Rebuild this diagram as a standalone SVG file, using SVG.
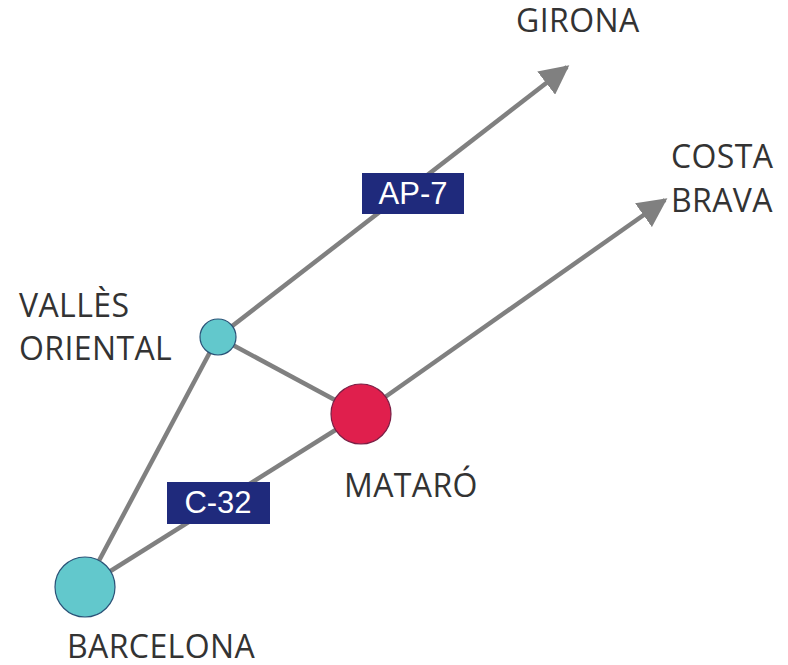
<svg xmlns="http://www.w3.org/2000/svg" width="788" height="665" viewBox="0 0 788 665">
<style>
.road{stroke:#808080;stroke-width:4.5;fill:none}
.lbl{font-family:"Open Sans","Liberation Sans",sans-serif;font-size:32px;letter-spacing:0.4px;fill:#333}
.tag{fill:#1f2a7c}
.tagt{font-family:"Liberation Sans",Arial,sans-serif;font-size:31px;fill:#fff;text-anchor:middle}
.teal{fill:#62c8cc;stroke:#2a5277;stroke-width:1.2}
.red{fill:#e01f4d;stroke:#7a1f45;stroke-width:1.2}
</style>
<defs>
<marker id="ah" viewBox="0 0 10 10" refX="9" refY="5" markerWidth="6.5" markerHeight="6.5" markerUnits="strokeWidth" orient="auto">
<path d="M0,0 L10,5 L0,10 z" fill="#808080"/>
</marker>
</defs>
<rect width="788" height="665" fill="#fff"/>
<g id="connectors">
<line class="road" x1="218" y1="337" x2="567" y2="67" marker-end="url(#ah)"/>
<line class="road" x1="361" y1="414" x2="665" y2="200" marker-end="url(#ah)"/>
<line class="road" x1="218" y1="337" x2="85" y2="587"/>
<line class="road" x1="218" y1="337" x2="361" y2="414"/>
<line class="road" x1="361" y1="414" x2="85" y2="587"/>
</g>
<g id="ap7">
<rect class="tag" x="362" y="173" width="102" height="41"/>
<text class="tagt" x="413" y="204">AP-7</text>
</g>
<g id="c32">
<rect class="tag" x="167" y="482" width="103" height="42"/>
<text class="tagt" x="218" y="513">C-32</text>
</g>
<g id="valles">
<circle class="teal" cx="218" cy="337" r="18"/>
<text class="lbl" x="19" y="317">VALLÈS</text>
<text class="lbl" x="19" y="360">ORIENTAL</text>
</g>
<g id="mataro">
<circle class="red" cx="361" cy="414" r="30"/>
<text class="lbl" x="344" y="497">MATARÓ</text>
</g>
<g id="barcelona">
<circle class="teal" cx="85" cy="587" r="30"/>
<text class="lbl" x="67" y="658">BARCELONA</text>
</g>
<g id="girona">
<text class="lbl" x="516" y="32">GIRONA</text>
</g>
<g id="costabrava">
<text class="lbl" x="671" y="168">COSTA</text>
<text class="lbl" x="671" y="212">BRAVA</text>
</g>
</svg>
